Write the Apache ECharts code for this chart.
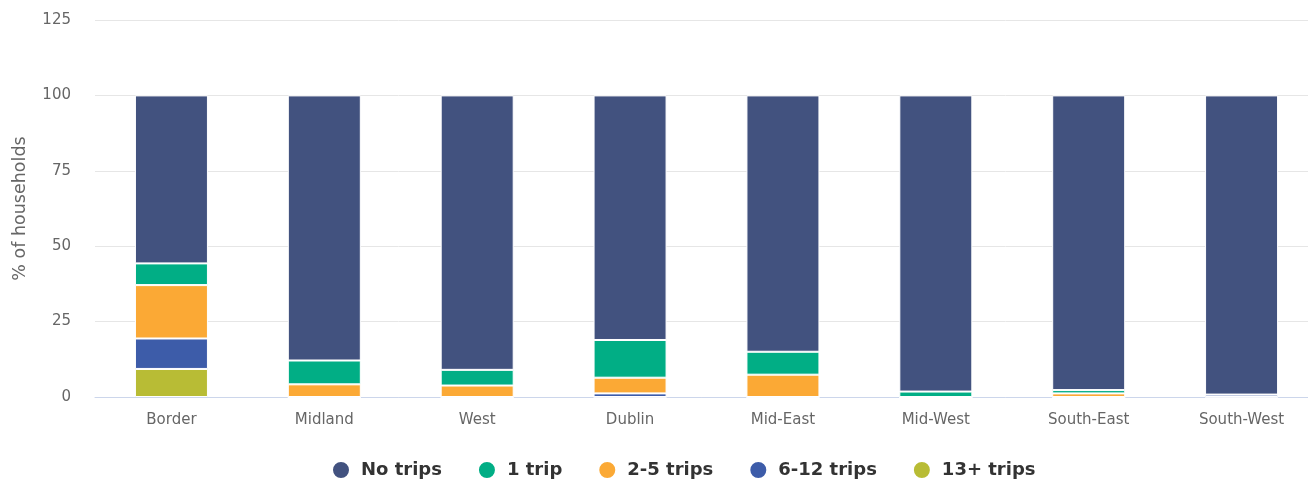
<!DOCTYPE html>
<html>
<head>
<meta charset="utf-8">
<script src="https://cdn.jsdelivr.net/npm/echarts@6/dist/echarts.min.js"></script>
<style>
  html, body { margin: 0; padding: 0; background: #ffffff; }
  #chart { width: 1308px; height: 480px; }
</style>
</head>
<body>
<div id="chart"></div>
<script>
// Regions (x-axis categories)
const regions = ['Border', 'Midland', 'West', 'Dublin', 'Mid-East', 'Mid-West', 'South-East', 'South-West'];

// Share of households (%) by number of trips, per region
const noTrips     = [55.7, 87.9, 91.0, 81.1, 85.0, 98.2, 97.7, 99.2];
const oneTrip     = [7.2, 7.9, 5.2, 12.5, 7.6, 1.8, 1.1, 0];
const twoToFive   = [17.7, 4.2, 3.8, 5.2, 7.4, 0, 1.2, 0];
const sixToTwelve = [10.1, 0, 0, 1.2, 0, 0, 0, 0.8];
const thirteenPlus = [9.3, 0, 0, 0, 0, 0, 0, 0];

// Y-axis ticks
const yTicks = [0, 25, 50, 75, 100, 125];

const seriesDefs = [
  { name: '13+ trips', data: thirteenPlus, color: '#b8bc35' },
  { name: '6-12 trips', data: sixToTwelve, color: '#3d5ca9' },
  { name: '2-5 trips', data: twoToFive, color: '#fba935' },
  { name: '1 trip', data: oneTrip, color: '#01ae85' },
  { name: 'No trips', data: noTrips, color: '#42527f' }
];

const font = 'DejaVu Sans, sans-serif';

const chart = echarts.init(document.getElementById('chart'), null, { renderer: 'canvas' });

chart.setOption({
  backgroundColor: '#ffffff',
  animation: false,
  textStyle: { fontFamily: font },
  legend: {
    data: ['No trips', '1 trip', '2-5 trips', '6-12 trips', '13+ trips'],
    left: 326,
    top: 455,
    icon: 'circle',
    itemWidth: 18,
    itemHeight: 18,
    itemGap: 35,
    textStyle: { fontFamily: font, fontSize: 18, fontWeight: 'bold', color: '#333333', padding: [0, 0, 0, 6] }
  },
  grid: { left: 95, right: -10, top: 20, bottom: 83, containLabel: false, outerBoundsMode: 'none' },
  xAxis: {
    type: 'category',
    data: regions,
    axisLine: { lineStyle: { color: '#ccd6eb', width: 1 } },
    axisTick: { show: false },
    axisLabel: { color: '#666666', fontSize: 15, margin: 16, fontFamily: font }
  },
  yAxis: {
    type: 'value',
    min: yTicks[0],
    max: yTicks[yTicks.length - 1],
    interval: yTicks[1] - yTicks[0],
    name: '% of households',
    nameLocation: 'middle',
    nameRotate: 90,
    nameGap: 66,
    nameTextStyle: { color: '#666666', fontSize: 17.5, fontFamily: font },
    axisLine: { show: false },
    axisTick: { show: false },
    axisLabel: { color: '#666666', fontSize: 15, margin: 24, fontFamily: font },
    splitLine: { lineStyle: { color: '#e6e6e6', width: 1 } }
  },
  series: seriesDefs.map(s => ({
    name: s.name,
    type: 'bar',
    stack: 'total',
    barWidth: 73,
    data: s.data,
    itemStyle: { color: s.color, borderColor: '#ffffff', borderWidth: 1 },
    emphasis: { disabled: true }
  }))
});
</script>
</body>
</html>
